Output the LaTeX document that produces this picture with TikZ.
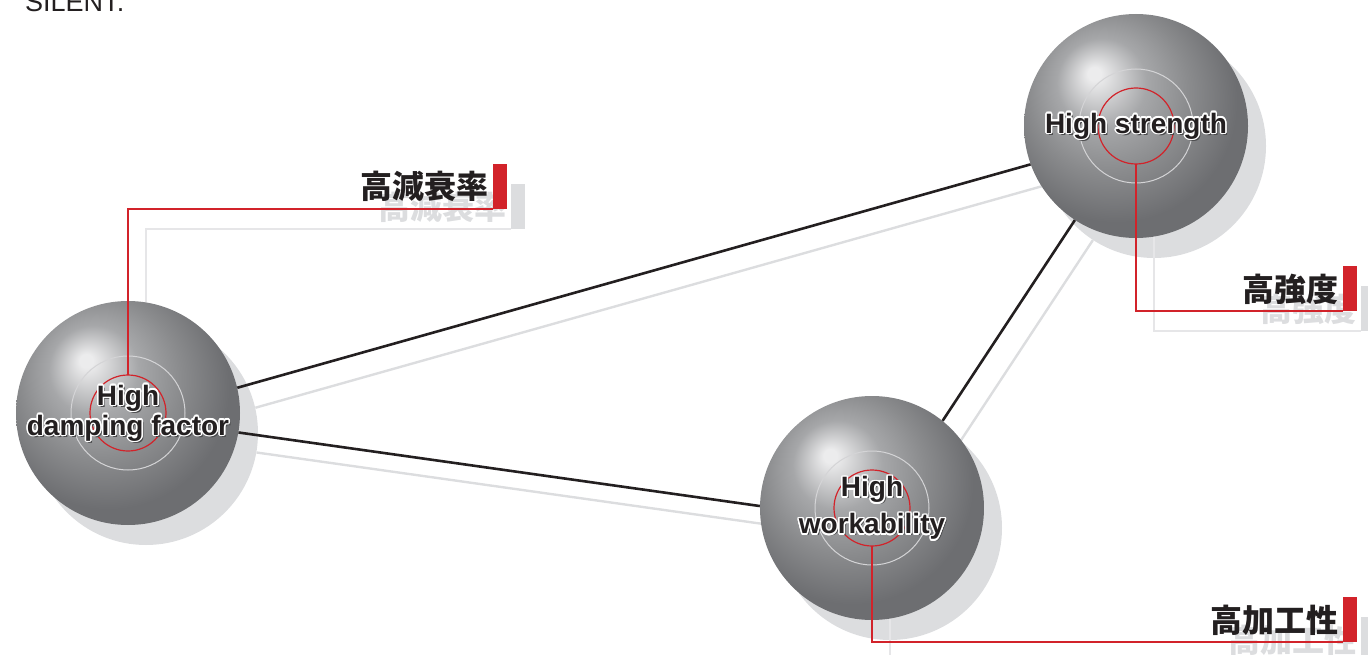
\documentclass[tikz,border=0pt]{standalone}
\usepackage{fontspec}
\usepackage{xcolor}
\usepackage{tikz}
\usetikzlibrary{
    positioning,
    calc
}

\newfontfamily\capfont{Liberation Sans}
\newfontfamily\cjkfont{Noto Sans CJK JP}

\definecolor{inkblack}{HTML}{231F20}
\definecolor{shadowgray}{HTML}{DCDDDF}
\definecolor{echogray}{HTML}{E6E6E8}
\definecolor{tagred}{HTML}{D2232A}
\definecolor{ringgray}{HTML}{D4D4D6}
\definecolor{capshadow}{HTML}{4A4A4C}
\definecolor{sphhi}{HTML}{ECECED}
\definecolor{sphmid}{HTML}{A6A7A9}
\definecolor{sphlow}{HTML}{8A8B8D}
\definecolor{sphdark}{HTML}{6D6E71}

% grey sphere, highlight up and to the left (path box = 50bp)
\pgfdeclareradialshading{spheregray}{\pgfpoint{-9.6bp}{12bp}}{%
    color(0bp)=(sphhi); color(1.5bp)=(sphhi); color(10bp)=(sphmid);
    color(18bp)=(sphlow); color(27bp)=(sphdark); color(50bp)=(sphdark)}

% bold caption with white halo and a soft drop shadow
\newcommand\ballcaption[3]{%
    \node[caption, text=capshadow] at ($(#2)+(2pt,-2pt)$) {#3};
    \foreach \a in {0,30,...,330}
        \node[caption, text=white] at ($(#2)+(\a:1.5pt)$) {#3};
    \node[caption] (#1) at (#2) {#3};
}

\begin{document}
\begin{tikzpicture}[
    x=1pt, y=-1pt,
    ballshadow/.style={circle, fill=shadowgray, minimum size=224pt, inner sep=0pt},
    ball/.style={circle, shading=spheregray, minimum size=224pt, inner sep=0pt},
    caption/.style={font=\capfont\bfseries\fontsize{28}{30}\selectfont, align=center, text=inkblack, inner sep=0pt},
    link/.style={draw=inkblack, line width=2.6pt},
    echolink/.style={draw=shadowgray, line width=2.4pt},
    ring/.style={draw=ringgray, line width=1pt},
    redring/.style={draw=tagred, line width=1.2pt},
    callout/.style={draw=tagred, line width=1.4pt},
    echocallout/.style={draw=echogray, line width=1.6pt},
    tagbar/.style={fill=tagred, minimum width=14pt, minimum height=45pt, inner sep=0pt, anchor=south west},
    echobar/.style={tagbar, fill=shadowgray},
    tagtext/.style={font=\cjkfont\bfseries\fontsize{32}{32}\selectfont, text=inkblack, inner sep=0pt, anchor=base east},
    echotext/.style={tagtext, text=shadowgray}
]

\clip (0,0) rectangle (1368,655);

\node[font=\capfont\fontsize{27}{27}\selectfont, text=inkblack, inner sep=0pt, anchor=base west] (brand) at (25,12) {SILENT.};

% sphere centres
\coordinate (cD) at (128,413);
\coordinate (cS) at (1136,126);
\coordinate (cW) at (872,508);

% flat shadows, shifted down-right
\node[ballshadow] (dampS) at ($(cD)+(18,20)$) {};
\node[ballshadow] (strongS) at ($(cS)+(18,20)$) {};
\node[ballshadow] (workS) at ($(cW)+(18,20)$) {};

\draw[echolink] (dampS.13.4) -- (strongS.-160);
\draw[echolink] (dampS.-10.4) -- (workS.179);
\draw[echolink] (strongS.-123.4) -- (workS.51.4);

\node[echobar] (barDS) at (511,229) {};
\node[echobar] (barSS) at (1361,331) {};
\node[echobar] (barWS) at (1361,662) {};
\node[echotext] at ($(barDS.south west)+(-4,-10)$) {高減衰率};
\node[echotext] at ($(barSS.south west)+(-4,-10)$) {高強度};
\node[echotext] at ($(barWS.south west)+(-4,-10)$) {高加工性};
\draw[echocallout] ($(dampS)+(0,-38)$) |- (barDS.south west);
\draw[echocallout] ($(strongS)+(0,38)$) |- (barSS.south west);
\draw[echocallout] ($(workS)+(0,38)$) |- (barWS.south west);

% the three spheres
\node[ball] (damp) at (cD) {};
\node[ball] (strong) at (cS) {};
\node[ball] (work) at (cW) {};

\draw[link] (damp.13.4) -- (strong.-160);
\draw[link] (damp.-10.4) -- (work.179);
\draw[link] (strong.-123.4) -- (work.51.4);

\foreach \s in {damp, strong, work} {
    \draw[ring] (\s) circle[radius=57pt];
    \draw[redring] (\s) circle[radius=38pt];
}

% red tags
\node[tagbar] (barD) at (493,209) {};
\node[tagbar] (barS) at (1343,311) {};
\node[tagbar] (barW) at (1343,642) {};
\node[tagtext] (tagD) at ($(barD.south west)+(-4,-10)$) {高減衰率};
\node[tagtext] (tagS) at ($(barS.south west)+(-4,-10)$) {高強度};
\node[tagtext] (tagW) at ($(barW.south west)+(-4,-10)$) {高加工性};
\draw[callout] ($(damp)+(0,-38)$) |- (barD.south west);
\draw[callout] ($(strong)+(0,38)$) |- (barS.south west);
\draw[callout] ($(work)+(0,38)$) |- (barW.south west);

\ballcaption{capD}{damp}{High\\damping factor}
\ballcaption{capS}{strong}{High strength}
\ballcaption{capW}{work}{High\\[7pt]workability}

\end{tikzpicture}
\end{document}
